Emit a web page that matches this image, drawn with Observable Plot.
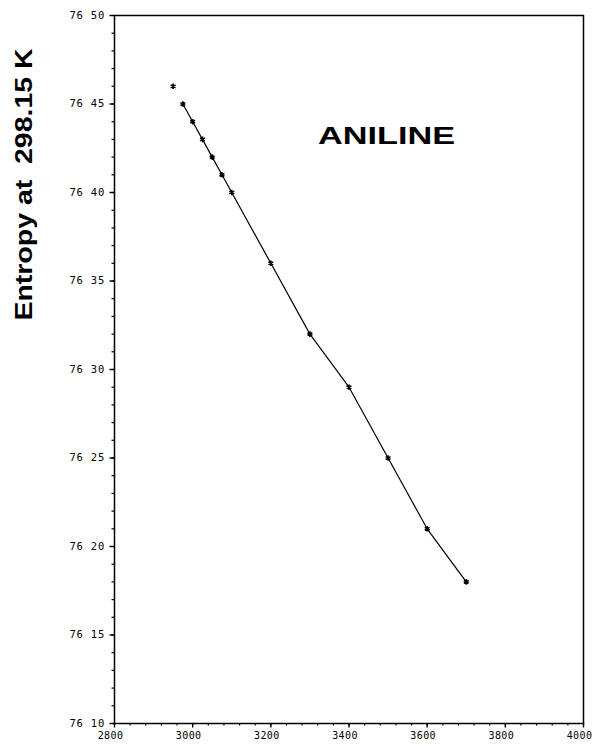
<!DOCTYPE html>
<html>
<head>
<meta charset="utf-8">
<script src="https://cdn.jsdelivr.net/npm/d3@7"></script>
<script src="https://cdn.jsdelivr.net/npm/@observablehq/plot@0.6"></script>
<style>
  html, body { margin: 0; padding: 0; background: #fff; }
  #chart svg { display: block; }
</style>
</head>
<body>
<div id="chart"></div>
<script>
// Data
const temperatures = [2950, 2975, 3000, 3025, 3050, 3075, 3100, 3200, 3300, 3400, 3500, 3600, 3700];
const entropies    = [76.46, 76.45, 76.44, 76.43, 76.42, 76.41, 76.40, 76.36, 76.32, 76.29, 76.25, 76.21, 76.18];
const xTicks = [2800, 3000, 3200, 3400, 3600, 3800, 4000];
const yTicks = [76.10, 76.15, 76.20, 76.25, 76.30, 76.35, 76.40, 76.45, 76.50];
const xMinorTicks = d3.range(2800, 4001, 40);
const yMinorTicks = d3.range(0, 41).map(i => 76.10 + i * 0.01);
const yLabel = "Entropy at  298.15 K";
const title = "ANILINE";

const points = temperatures.map((t, i) => ({t, s: entropies[i]}));

const tickFont = "DejaVu Sans Mono, monospace";

const chart = Plot.plot({
  width: 593,
  height: 748,
  marginLeft: 114,
  marginRight: 10,
  marginTop: 15,
  marginBottom: 25,
  style: {background: "#fff", color: "#000", overflow: "visible"},
  x: {domain: [2800, 4000]},
  y: {domain: [76.10, 76.50]},
  marks: [
    Plot.frame({stroke: "#000", strokeWidth: 1.5}),
    Plot.axisX({ticks: xMinorTicks, tickSize: 2.5, text: null, strokeWidth: 1.2, label: null}),
    Plot.axisX({ticks: xTicks, tickSize: 4.5, text: null, strokeWidth: 1.4, label: null}),
    Plot.axisX({ticks: xTicks, tickSize: 0, tickPadding: 8.5, dx: -4,
      tickFormat: d => String(d), fontSize: 10, fontFamily: tickFont, label: null}),
    Plot.axisY({ticks: yMinorTicks, tickSize: 2.5, text: null, strokeWidth: 1.2, label: null}),
    Plot.axisY({ticks: yTicks, tickSize: 4.5, tickPadding: 5, strokeWidth: 1.4,
      tickFormat: d => d3.format(".2f")(d).replace(".", " "), fontSize: 10.5, fontFamily: tickFont, label: null}),
    Plot.line(points.slice(1), {x: "t", y: "s", stroke: "#000", strokeWidth: 1.2}),
    Plot.dot(points, {x: "t", y: "s", symbol: "asterisk", r: 2.6, stroke: "#000", strokeWidth: 1.6}),
    Plot.text([yLabel], {frameAnchor: "top-left", dx: -90, dy: 169, rotate: -90,
      textAnchor: "middle", lineAnchor: "middle", fontSize: 24, fontWeight: "bold",
      fontFamily: "Liberation Sans, Arial, sans-serif", fill: "#000", className: "ylab"}),
    Plot.text([title], {frameAnchor: "top-left", dx: 272, dy: 121,
      textAnchor: "middle", lineAnchor: "middle", fontSize: 24, fontWeight: "bold",
      fontFamily: "Liberation Sans, Arial, sans-serif", fill: "#000", className: "ttl"})
  ]
});

d3.select(chart).selectAll(".ylab text").attr("textLength", 272).attr("lengthAdjust", "spacingAndGlyphs");
d3.select(chart).selectAll(".ttl text").attr("textLength", 137).attr("lengthAdjust", "spacingAndGlyphs");
d3.select(chart).selectAll("[aria-label^='x-axis tick label'] text").attr("letter-spacing", "0.4");
d3.select(chart).selectAll("[aria-label^='y-axis tick label'] text").attr("letter-spacing", "0.8");

document.getElementById("chart").appendChild(chart);
</script>
</body>
</html>
